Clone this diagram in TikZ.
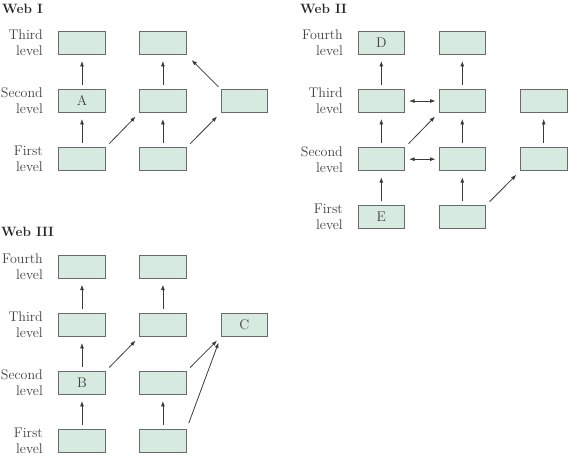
\documentclass[tikz,border=0pt]{standalone}
\usetikzlibrary{arrows.meta}
\definecolor{boxfill}{HTML}{D6EAE0}
\definecolor{boxline}{HTML}{6A6A6A}
\definecolor{arr}{HTML}{3A3A3A}
\definecolor{txt}{HTML}{404040}
\begin{document}
\begin{tikzpicture}[x=1pt,y=-1pt,
  box/.style={draw=boxline,fill=boxfill,line width=0.9pt,minimum width=46.6pt,minimum height=23pt,inner sep=0pt,text=txt,font=\fontsize{14}{16}\selectfont},
  lvl/.style={anchor=east,align=right,inner sep=0pt,text=txt,font=\fontsize{14}{16}\selectfont},
  ttl/.style={anchor=west,inner sep=0pt,text=black!85,font=\fontsize{13.5}{15}\selectfont\bfseries},
  up/.style={draw=arr,line width=0.8pt,-{Latex[length=5.5pt,width=4pt]},shorten <=4pt,shorten >=6pt},
  dg/.style={draw=arr,line width=0.8pt,-{Latex[length=5.5pt,width=4pt]},shorten <=5pt,shorten >=5pt},
  dbl/.style={draw=arr,line width=0.8pt,{Latex[length=5.5pt,width=4pt]}-{Latex[length=5.5pt,width=4pt]},shorten <=4pt,shorten >=3pt}]
\useasboundingbox (0,0) rectangle (574,460);
% ---------- Web I ----------
\node[ttl] (t1) at (2,9) {Web I};
\node[lvl] (l13) at (43,43) {Third\\level};
\node[lvl] (l12) at (43,101) {Second\\level};
\node[lvl] (l11) at (43,159.2) {First\\level};
\node[box] (a13) at (82,43) {};
\node[box] (a12) at (82,101) {A};
\node[box] (a11) at (82,159.2) {};
\node[box] (a23) at (162.9,43) {};
\node[box] (a22) at (162.9,101) {};
\node[box] (a21) at (162.9,159.2) {};
\node[box] (a32) at (244.4,101) {};
\draw[up] (a11) -- (a12);
\draw[up] (a12) -- (a13);
\draw[up] (a21) -- (a22);
\draw[up] (a22) -- (a23);
\draw[dg] (a11.north east) -- (a22.south west);
\draw[dg] (a21.north east) -- (a32.south west);
\draw[draw=arr,line width=0.8pt,-{Latex[length=5.5pt,width=4pt]},shorten <=3pt,shorten >=7pt] (a32.north west) -- (a23.south east);
% ---------- Web II ----------
\node[ttl] (t2) at (300,9) {Web II};
\node[lvl] (l24) at (343,43) {Fourth\\level};
\node[lvl] (l23) at (343,101) {Third\\level};
\node[lvl] (l22) at (343,159.2) {Second\\level};
\node[lvl] (l21) at (343,217.2) {First\\level};
\node[box] (b14) at (381.3,43) {D};
\node[box] (b13) at (381.3,101) {};
\node[box] (b12) at (381.3,159.2) {};
\node[box] (b11) at (381.3,217.2) {E};
\node[box] (b24) at (462.3,43) {};
\node[box] (b23) at (462.3,101) {};
\node[box] (b22) at (462.3,159.2) {};
\node[box] (b21) at (462.3,217.2) {};
\node[box] (b33) at (543.7,101) {};
\node[box] (b32) at (543.7,159.2) {};
\draw[up] (b11) -- (b12);
\draw[up] (b12) -- (b13);
\draw[up] (b13) -- (b14);
\draw[up] (b21) -- (b22);
\draw[up] (b22) -- (b23);
\draw[up] (b23) -- (b24);
\draw[up] (b32) -- (b33);
\draw[dbl] (b13) -- (b23);
\draw[dbl] (b12) -- (b22);
\draw[dg] (b12.north east) -- (b23.south west);
\draw[dg] (b21.north east) -- (b32.south west);
% ---------- Web III ----------
\node[ttl] (t3) at (1,232) {Web III};
\node[lvl] (l34) at (43,266.7) {Fourth\\level};
\node[lvl] (l33) at (43,325) {Third\\level};
\node[lvl] (l32) at (43,383) {Second\\level};
\node[lvl] (l31) at (43,440.8) {First\\level};
\node[box] (c14) at (82,266.7) {};
\node[box] (c13) at (82,325) {};
\node[box] (c12) at (82,383) {B};
\node[box] (c11) at (82,440.8) {};
\node[box] (c24) at (162.9,266.7) {};
\node[box] (c23) at (162.9,325) {};
\node[box] (c22) at (162.9,383) {};
\node[box] (c21) at (162.9,440.8) {};
\node[box] (c33) at (244.4,325) {C};
\draw[up] (c11) -- (c12);
\draw[up] (c12) -- (c13);
\draw[up] (c13) -- (c14);
\draw[up] (c21) -- (c22);
\draw[up] (c23) -- (c24);
\draw[dg] (c12.north east) -- (c23.south west);
\draw[dg] (c22.north east) -- (c33.south west);
\draw[draw=arr,line width=0.8pt,-{Latex[length=5.5pt,width=4pt]},shorten <=6pt,shorten >=6pt] (c21.north east) -- (c33.south west);
\end{tikzpicture}
\end{document}
